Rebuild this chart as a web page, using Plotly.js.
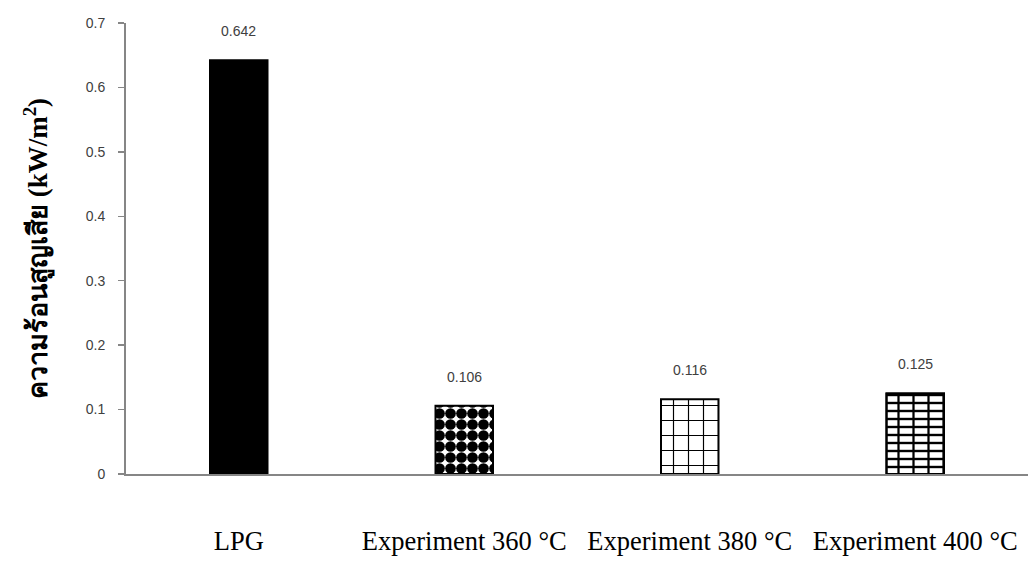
<!DOCTYPE html>
<html>
<head>
<meta charset="utf-8">
<script src="https://cdn.plot.ly/plotly-3.0.1.min.js"></script>
<style>html,body{margin:0;padding:0;background:#fff;}#chart{width:1028px;height:563px;}</style>
</head>
<body>
<div id="chart"></div>
<script>
const categories = ["LPG", "Experiment 360 °C", "Experiment 380 °C", "Experiment 400 °C"];
const values = [0.642, 0.106, 0.116, 0.125];
const valueLabels = ["0.642", "0.106", "0.116", "0.125"];
const yTickVals = [0, 0.1, 0.2, 0.3, 0.4, 0.5, 0.6, 0.7];
const yTickText = ["0", "0.1", "0.2", "0.3", "0.4", "0.5", "0.6", "0.7"];
const yTitle = "ความร้อนสูญเสีย (kW/m<sup>2</sup>)";

const styles = [
  [{color: "#000000"}],
  [{color: "#ffffff", pattern: {shape: ".", fgcolor: "#000000", bgcolor: "#ffffff", size: 11, solidity: 0.75}}],
  [{color: "#ffffff", pattern: {shape: "+", fgcolor: "#000000", bgcolor: "#ffffff", size: 15, solidity: 0.15}}],
  [{color: "#ffffff", pattern: {shape: "-", fgcolor: "#000000", bgcolor: "#ffffff", size: 8, solidity: 0.3}},
   {color: "rgba(0,0,0,0)", pattern: {shape: "|", fgcolor: "#000000", bgcolor: "rgba(0,0,0,0)", size: 15, solidity: 0.15}}]
];

const traces = [];
categories.forEach((c, i) => {
  styles[i].forEach(m => {
    traces.push({
      type: "bar",
      x: [c],
      y: [values[i]],
      width: 0.255,
      marker: Object.assign({}, m, {line: {color: "#000000", width: 2}}),
      hoverinfo: "skip",
      showlegend: false
    });
  });
});

const annotations = categories.map((c, i) => ({
  x: c, y: values[i], xref: "x", yref: "y",
  text: valueLabels[i], showarrow: false,
  yanchor: "bottom", yshift: 19,
  font: {family: "Liberation Sans, Arial, sans-serif", size: 14, color: "#404040"}
}));

const layout = {
  width: 1028, height: 563,
  margin: {l: 126, r: 0, t: 23, b: 89},
  barmode: "overlay",
  paper_bgcolor: "#ffffff", plot_bgcolor: "#ffffff",
  showlegend: false,
  xaxis: {
    type: "category",
    categoryorder: "array", categoryarray: categories,
    showline: true, linecolor: "#868686", linewidth: 2,
    ticks: "", showgrid: false, zeroline: false,
    ticklabelstandoff: 42,
    tickfont: {family: "Liberation Serif, Times New Roman, serif", size: 26.5, color: "#000000"}
  },
  yaxis: {
    range: [0, 0.7],
    tickvals: yTickVals, ticktext: yTickText,
    showline: true, linecolor: "#868686", linewidth: 2,
    ticks: "outside", ticklen: 6, tickcolor: "#868686", tickwidth: 1.5,
    showgrid: false, zeroline: false,
    ticklabelstandoff: 10,
    tickfont: {family: "Liberation Sans, Arial, sans-serif", size: 14, color: "#404040"},
    title: {text: yTitle, standoff: 30,
      font: {family: "Liberation Serif, Times New Roman, serif", size: 27, color: "#000000", weight: "bold"}}
  },
  annotations: annotations
};

Plotly.newPlot("chart", traces, layout, {displayModeBar: false, staticPlot: true});
</script>
</body>
</html>
